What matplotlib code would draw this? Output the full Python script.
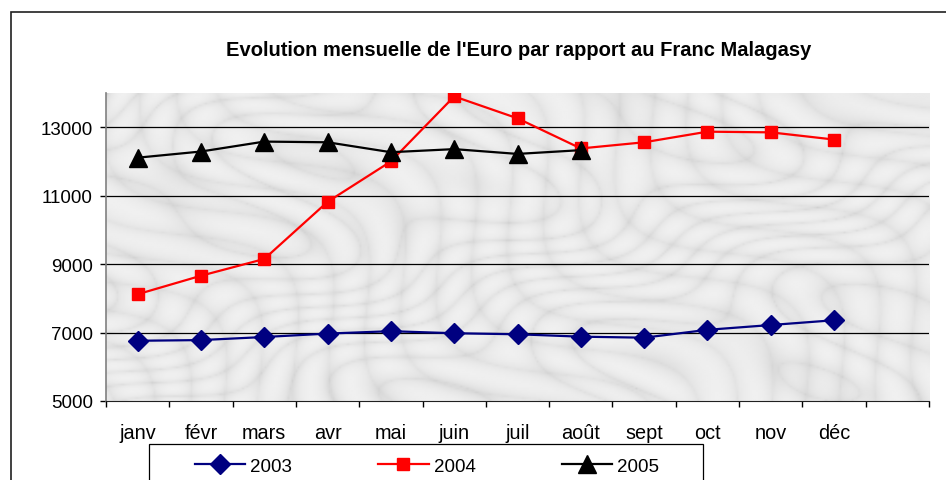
import numpy as np
import matplotlib
matplotlib.use("Agg")
import matplotlib.pyplot as plt
from matplotlib.patches import Rectangle

plt.rcParams['font.family'] = ['Liberation Sans', 'DejaVu Sans']

mois = ['janv', 'févr', 'mars', 'avr', 'mai', 'juin',
        'juil', 'août', 'sept', 'oct', 'nov', 'déc']
v2003 = [6760, 6780, 6870, 6970, 7040, 6980, 6950, 6880, 6850, 7080, 7220, 7360]
v2004 = [8120, 8660, 9150, 10820, 12000, 13900, 13260, 12380, 12560, 12870, 12850, 12640]
v2005 = [12110, 12290, 12580, 12560, 12270, 12360, 12220, 12330]
y_ticks = [5000, 7000, 9000, 11000, 13000]

W, H = 946, 481
fig = plt.figure(figsize=(W / 100, H / 100), dpi=100)
ax = fig.add_axes([106 / W, 1 - 402 / H, (929 - 106) / W, (402 - 94) / H])

# fond gris "marbre" (texture décorative)
gx, gy = np.meshgrid(np.linspace(0, 1, 400), np.linspace(0, 1, 160))
t = 9 * gx + 6 * gy + 1.6 * np.sin(7 * gy + 4 * gx) + 0.7 * np.sin(17 * gx - 11 * gy)
veins = np.abs(np.sin(np.pi * t)) ** 0.35
t2 = 14 * gx - 5 * gy + 1.2 * np.sin(9 * gx + 5 * gy)
veins2 = np.abs(np.sin(np.pi * t2)) ** 0.5
tex = 0.80 + 0.08 * veins + 0.06 * veins2
ax.imshow(tex, cmap='gray', vmin=0, vmax=1, extent=[-0.5, 12.5, 5000, 14000],
          aspect='auto', zorder=0, interpolation='bilinear')

x = np.arange(len(mois))
ax.plot(x, v2003, color='#000080', lw=1.6, marker='D', ms=10.5, label='2003', zorder=3)
ax.plot(x, v2004, color='#FF0000', lw=1.6, marker='s', ms=8.5, label='2004', zorder=4)
ax.plot(x[:len(v2005)], v2005, color='black', lw=1.6, marker='^', ms=13, label='2005', zorder=5)

ax.set_xlim(-0.5, 12.5)
ax.set_ylim(5000, 14000)
ax.set_yticks(y_ticks)
ax.set_xticks(x)
ax.set_xticklabels(mois)
ax.set_xticks(np.arange(-0.5, 13, 1), minor=True)
ax.tick_params(axis='x', which='major', length=0, pad=15.5, labelsize=14.3)
ax.tick_params(axis='x', which='minor', length=4, width=1, direction='out')
ax.tick_params(axis='y', length=4.5, width=1, pad=5, labelsize=13.5, direction='out')
for yv in y_ticks[1:]:
    ax.axhline(yv, color='black', lw=0.9, zorder=1)
for s in ['top', 'right']:
    ax.spines[s].set_visible(False)
ax.spines['left'].set_color('#808080')
ax.spines['left'].set_linewidth(1.2)
ax.spines['bottom'].set_color('#202020')

fig.text(519 / W, 1 - 50 / H, "Evolution mensuelle de l'Euro par rapport au Franc Malagasy",
         ha='center', va='center', fontsize=14.5, fontweight='bold')

# cadre du graphique
fig.add_artist(Rectangle((11 / W, -0.1), 2, 1.1 - 12.5 / H, transform=fig.transFigure,
                         fill=False, lw=1.2, ec='#202020'))
# cadre de la légende
fig.add_artist(Rectangle((149 / W, -0.1), (703 - 149) / W, 0.1 + 1 - 445 / H,
                         transform=fig.transFigure, fill=False, lw=0.9, ec='black'))
fig.legend(loc='center', bbox_to_anchor=(427 / W, 1 - 467 / H), ncol=3, frameon=False,
           fontsize=13.5, handlelength=2.67, handletextpad=0.27, columnspacing=4.6,
           borderpad=0, borderaxespad=0)

fig.savefig('out.png', dpi=100)
